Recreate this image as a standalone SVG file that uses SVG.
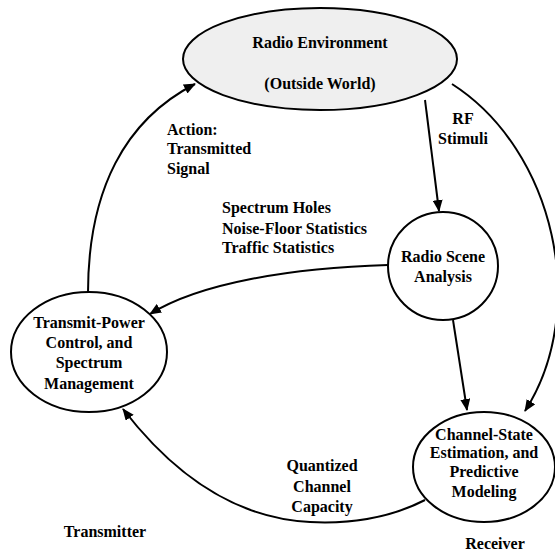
<svg xmlns="http://www.w3.org/2000/svg" width="555" height="553" viewBox="0 0 555 553">
  <style>
    .node { fill: #ffffff; stroke: #000000; stroke-width: 2; }
    .env { fill: #efefef; }
    .edge { fill: none; stroke: #000000; stroke-width: 2; marker-end: url(#arrow); }
    text { font-family: "Liberation Serif", "Times New Roman", serif; font-weight: bold; font-size: 16px; fill: #000000; }
    .c { text-anchor: middle; }
  </style>
  <defs>
    <marker id="arrow" viewBox="0 0 12 10" refX="11" refY="5" markerWidth="12" markerHeight="10" markerUnits="userSpaceOnUse" orient="auto">
      <path d="M0,0 L12,5 L0,10 Z" fill="#000000"/>
    </marker>
  </defs>

  <g id="connectors">
    <!-- transmitter action back into the environment -->
    <path class="edge" d="M88,293 C88,190 125,120 195,84"/>
    <!-- RF stimuli into scene analysis -->
    <path class="edge" d="M425,100 L439,211"/>
    <!-- environment directly to channel-state estimation -->
    <path class="edge" d="M452,84 C555,150 590,310 525,411"/>
    <!-- scene analysis statistics to transmitter -->
    <path class="edge" d="M388,265 C290,268 200,283 150,314"/>
    <!-- scene analysis to channel-state estimation -->
    <path class="edge" d="M453,320 L467,410"/>
    <!-- quantized channel capacity feedback -->
    <path class="edge" d="M425,500 C390,518 350,524 310,522 C230,518 170,470 123,409"/>
  </g>

  <g id="radio-environment">
    <ellipse class="node env" cx="320" cy="59" rx="137" ry="51"/>
    <text class="c" x="320" y="48">Radio Environment</text>
    <text class="c" x="320" y="89">(Outside World)</text>
  </g>

  <g id="radio-scene-analysis">
    <ellipse class="node" cx="443" cy="266" rx="55" ry="54"/>
    <text class="c" x="443" y="262">Radio Scene</text>
    <text class="c" x="443" y="282">Analysis</text>
  </g>

  <g id="transmit-power-control">
    <ellipse class="node" cx="89" cy="352" rx="78" ry="60"/>
    <text class="c" x="89" y="328">Transmit-Power</text>
    <text class="c" x="89" y="348">Control, and</text>
    <text class="c" x="89" y="368">Spectrum</text>
    <text class="c" x="89" y="389">Management</text>
  </g>

  <g id="channel-state-estimation">
    <ellipse class="node" cx="484" cy="467" rx="71" ry="55"/>
    <text class="c" x="484" y="440">Channel-State</text>
    <text class="c" x="484" y="458">Estimation, and</text>
    <text class="c" x="484" y="477">Predictive</text>
    <text class="c" x="484" y="497">Modeling</text>
  </g>

  <g id="labels">
    <text x="167" y="135">Action:</text>
    <text x="167" y="154">Transmitted</text>
    <text x="167" y="174">Signal</text>
    <text class="c" x="463" y="124">RF</text>
    <text class="c" x="463" y="144">Stimuli</text>
    <text x="222" y="213">Spectrum Holes</text>
    <text x="222" y="234">Noise-Floor Statistics</text>
    <text x="222" y="253">Traffic Statistics</text>
    <text class="c" x="322" y="471">Quantized</text>
    <text class="c" x="322" y="492">Channel</text>
    <text class="c" x="322" y="512">Capacity</text>
    <text class="c" x="105" y="537">Transmitter</text>
    <text class="c" x="495" y="549">Receiver</text>
  </g>
</svg>
